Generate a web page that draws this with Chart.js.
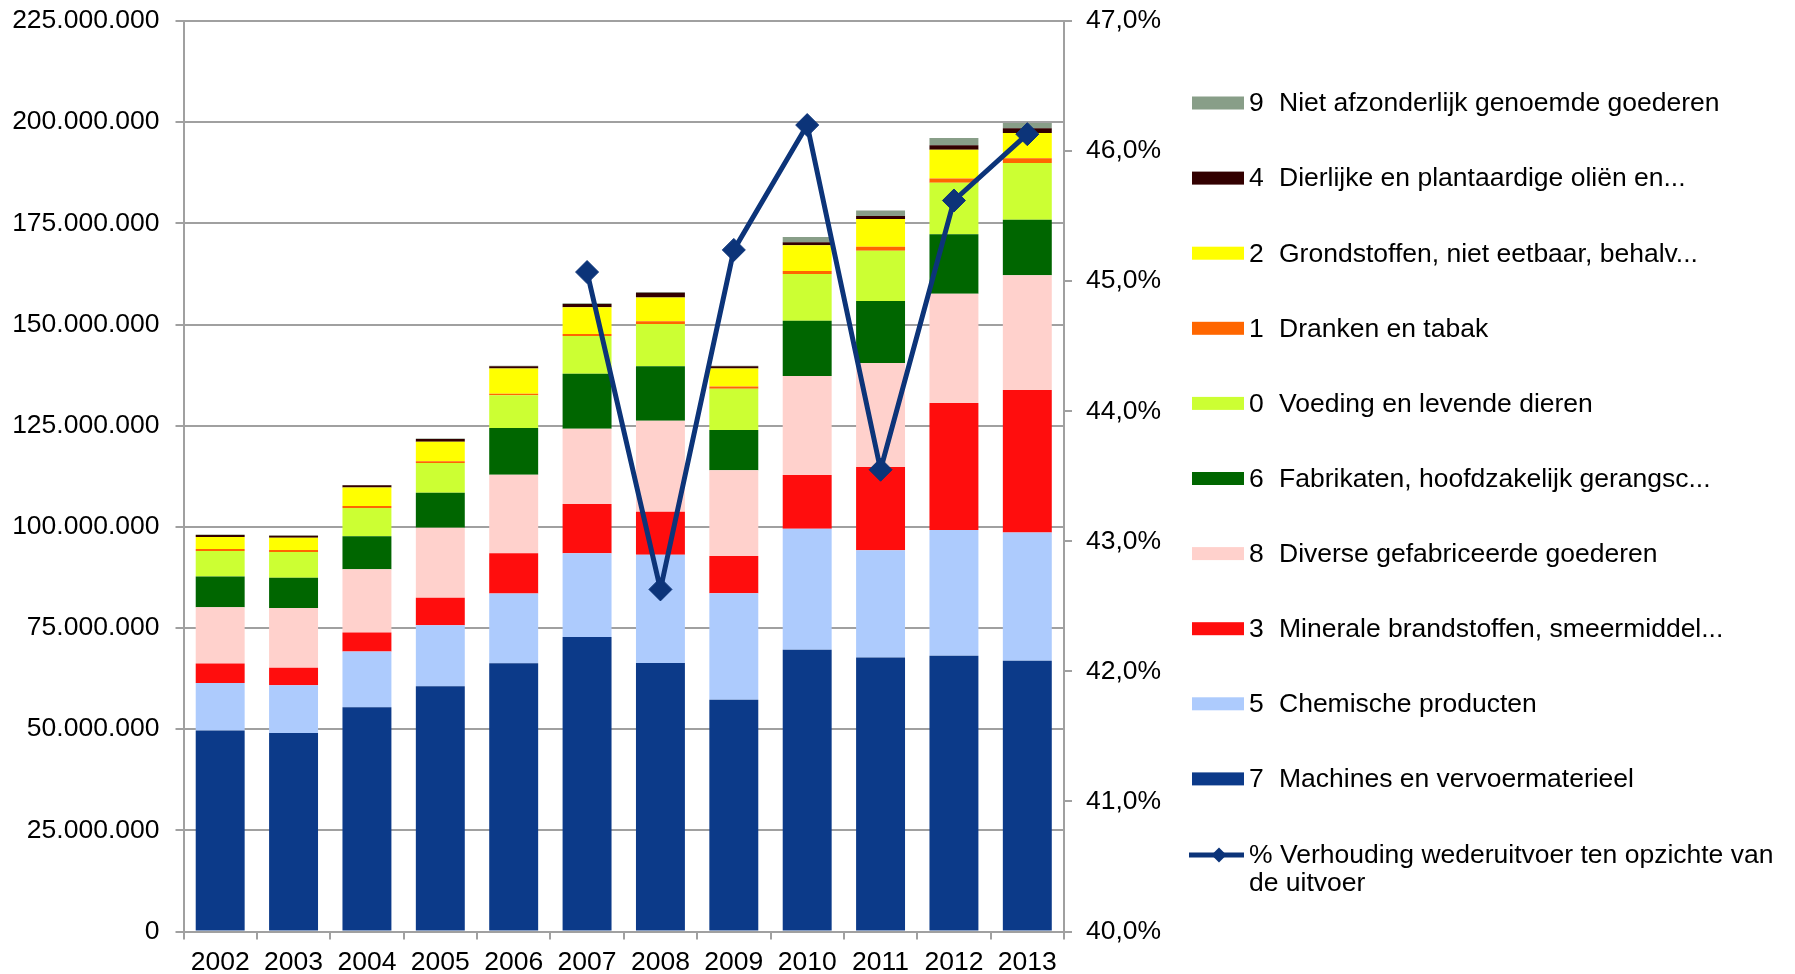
<!DOCTYPE html>
<html>
<head>
<meta charset="utf-8">
<script src="https://cdn.jsdelivr.net/npm/chart.js@4.4.1/dist/chart.umd.min.js"></script>
<style>
html,body{margin:0;padding:0;background:#ffffff;}
canvas{display:block;}
</style>
</head>
<body>
<canvas id="c" width="1795" height="974"></canvas>
<script>
// ---------- DATA ----------
const years = ['2002','2003','2004','2005','2006','2007','2008','2009','2010','2011','2012','2013'];

// stacked series (values), bottom to top
const cat7 = [49700000, 49050000, 55400000, 60600000, 66300000, 72800000, 66350000, 57300000, 69600000, 67700000, 68150000, 66900000];
const cat5 = [11700000, 11800000, 13800000, 15100000, 17200000, 20650000, 26750000, 26300000, 29900000, 26500000, 31050000, 31700000];
const cat3 = [4800000, 4300000, 4700000, 6800000, 10000000, 12200000, 10600000, 9200000, 13300000, 20600000, 31400000, 35200000];
const cat8 = [13900000, 14800000, 15600000, 17300000, 19400000, 18600000, 22500000, 21200000, 24500000, 25700000, 27000000, 28400000];
const cat6 = [7600000, 7450000, 8150000, 8600000, 11500000, 13600000, 13500000, 9900000, 13600000, 15300000, 14700000, 13700000];
const cat0 = [6300000, 6400000, 7000000, 7400000, 8100000, 9300000, 10400000, 10200000, 11600000, 12400000, 12700000, 14000000];
const cat1 = [500000, 500000, 500000, 400000, 400000, 500000, 700000, 600000, 700000, 1000000, 1100000, 1200000];
const cat2 = [3000000, 3000000, 4600000, 4800000, 6200000, 6600000, 5900000, 4400000, 6400000, 6900000, 7100000, 6200000];
const cat4 = [500000, 500000, 500000, 700000, 600000, 800000, 1150000, 600000, 700000, 700000, 1100000, 1200000];
const cat9 = [100000, 100000, 100000, 100000, 100000, 200000, 200000, 100000, 1300000, 1400000, 1800000, 1300000];

// line series (% right axis)
const ratio = [null, null, null, null, null, 45.07, 42.63, 45.24, 46.20, 43.55, 45.62, 46.13];

const codes  = ['7','5','3','8','6','0','1','2','4','9'];
const names  = ['Machines en vervoermaterieel','Chemische producten','Minerale brandstoffen, smeermiddel...','Diverse gefabriceerde goederen','Fabrikaten, hoofdzakelijk gerangsc...','Voeding en levende dieren','Dranken en tabak','Grondstoffen, niet eetbaar, behalv...','Dierlijke en plantaardige oliën en...','Niet afzonderlijk genoemde goederen'];
const series = [cat7, cat5, cat3, cat8, cat6, cat0, cat1, cat2, cat4, cat9];
const colors = ['#0c3a89','#adcbfd','#ff0d0d','#ffd1cc','#006600','#ccff33','#ff6600','#ffff00','#330000','#889e88'];
const lineLabel = ['% Verhouding wederuitvoer ten opzichte van','de uitvoer'];
const lineColor = '#0c3479';

// axis ranges
const leftMin = 0, leftMax = 225000000, leftStep = 25000000;
const rightMin = 40, rightMax = 47, rightStep = 1;

// ---------- CHART ----------
const FONT = '"Liberation Sans", Arial, sans-serif';
const FS = 26.5;
const GRID = '#a0a0a0';

function fmtThousands(v){
  return String(Math.round(v)).replace(/\B(?=(\d{3})+(?!\d))/g, '.');
}

const datasets = series.map((s, i) => ({
  type: 'bar',
  label: codes[i] + '  ' + names[i],
  code: codes[i],
  name: names[i],
  data: s,
  backgroundColor: colors[i],
  borderWidth: 0,
  yAxisID: 'y',
  stack: 'a',
  order: 2,
  categoryPercentage: 1.0,
  barPercentage: 0.667
}));
datasets.push({
  type: 'line',
  label: lineLabel.join(' '),
  data: ratio,
  borderColor: lineColor,
  backgroundColor: lineColor,
  borderWidth: 5,
  pointStyle: 'rectRot',
  pointRadius: 11.5,
  pointBorderWidth: 1,
  pointBorderColor: lineColor,
  pointBackgroundColor: lineColor,
  yAxisID: 'y2',
  order: 0,
  spanGaps: false,
  tension: 0
});

const legendPlugin = {
  id: 'sideLegend',
  afterDraw(chart) {
    const ctx = chart.ctx;
    const x0 = 1192, sw = 52, sh = 13;
    const firstY = 103, step = 75.1;
    ctx.save();
    ctx.font = FS + 'px ' + FONT;
    ctx.textBaseline = 'middle';
    ctx.textAlign = 'left';
    const bars = chart.data.datasets.filter(d => d.type === 'bar').slice().reverse();
    bars.forEach((d, i) => {
      const cy = firstY + i * step;
      ctx.fillStyle = d.backgroundColor;
      ctx.fillRect(x0, cy - sh / 2, sw, sh);
      ctx.fillStyle = '#000';
      ctx.fillText(d.code, x0 + 57, cy + 1);
      ctx.fillText(d.name, x0 + 87, cy + 1);
    });
    const cy = firstY + bars.length * step + 1;
    ctx.strokeStyle = lineColor;
    ctx.lineWidth = 5;
    ctx.beginPath();
    ctx.moveTo(x0 - 3, cy);
    ctx.lineTo(x0 + sw, cy);
    ctx.stroke();
    ctx.fillStyle = lineColor;
    ctx.beginPath();
    const dx = x0 + 27, r = 7.5;
    ctx.moveTo(dx, cy - r); ctx.lineTo(dx + r, cy); ctx.lineTo(dx, cy + r); ctx.lineTo(dx - r, cy); ctx.closePath();
    ctx.fill();
    ctx.fillStyle = '#000';
    ctx.fillText(lineLabel[0], x0 + 57, cy + 1);
    ctx.fillText(lineLabel[1], x0 + 57, cy + 29);
    ctx.restore();
  }
};

new Chart(document.getElementById('c'), {
  data: { labels: years, datasets },
  options: {
    responsive: false,
    animation: false,
    devicePixelRatio: 1,
    layout: { padding: { top: 21, right: 601, left: 0, bottom: 0 } },
    plugins: { legend: { display: false }, tooltip: { enabled: false } },
    scales: {
      x: {
        stacked: true,
        offset: true,
        grid: { offset: true, drawOnChartArea: false, drawTicks: true, tickLength: 8, color: GRID, lineWidth: 2 },
        border: { display: true, color: GRID, width: 2 },
        ticks: { color: '#000', font: { family: FONT, size: FS }, padding: 7, maxRotation: 0, autoSkip: false },
        afterFit(s) { s.height = 42.5; s.paddingLeft = 0; s.paddingRight = 0; }
      },
      y: {
        stacked: true,
        position: 'left',
        min: leftMin, max: leftMax,
        grid: { color: GRID, lineWidth: 2, drawTicks: true, tickLength: 8 },
        border: { display: true, color: GRID, width: 2 },
        ticks: { stepSize: leftStep, color: '#000', font: { family: FONT, size: FS }, padding: 16, callback: v => fmtThousands(v) },
        afterFit(s) { s.width = 183.5; s.paddingTop = 0; s.paddingBottom = 0; }
      },
      y2: {
        position: 'right',
        stacked: false,
        min: rightMin, max: rightMax,
        grid: { drawOnChartArea: false, drawTicks: true, tickLength: 8, color: GRID, lineWidth: 2 },
        border: { display: true, color: GRID, width: 2 },
        ticks: { stepSize: rightStep, color: '#000', font: { family: FONT, size: FS }, padding: 14, callback: v => v.toFixed(1).replace('.', ',') + '%' },
        afterFit(s) { s.width = 130; s.paddingTop = 0; s.paddingBottom = 0; }
      }
    }
  },
  plugins: [legendPlugin]
});
</script>
</body>
</html>
